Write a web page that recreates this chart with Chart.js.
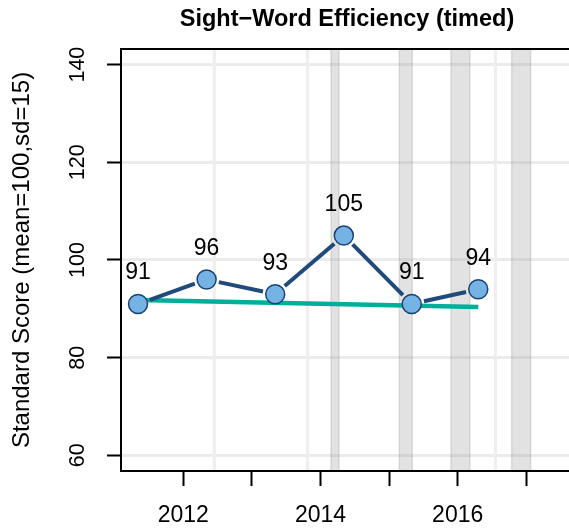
<!DOCTYPE html>
<html>
<head>
<meta charset="utf-8">
<script src="https://cdn.jsdelivr.net/npm/chart.js@4/dist/chart.umd.min.js"></script>
<style>
  html, body { margin: 0; padding: 0; overflow: hidden; background: #fff; }
  #wrap { width: 600px; height: 531px; }
</style>
</head>
<body>
<div id="wrap"><canvas id="c" width="600" height="531"></canvas></div>
<script>
// ---- data ----
const chartTitle = 'Sight\u2212Word Efficiency (timed)';
const yAxisTitle = 'Standard Score (mean=100,sd=15)';
const testDates = [2011.34, 2012.34, 2013.34, 2014.34, 2015.33, 2016.30];
const scores = [91, 96, 93, 105, 91, 94];
const trendDates = [2011.34, 2016.30];
const trendValues = [91.8, 90.4];
const bandStarts = [2014.153, 2015.149, 2015.902, 2016.787];
const bandEnds = [2014.270, 2015.338, 2016.179, 2017.064];
const refLineDates = [2012.452, 2013.813, 2016.551];
const xLabelYears = [2012, 2014, 2016];
const yRange = [56.8, 143.2];
const xRange = [2011.092, 2017.681];

const FONT = '"Liberation Sans", Arial, Helvetica, sans-serif';
Chart.defaults.font.family = FONT;
Chart.defaults.color = '#000';

const scorePoints = testDates.map((d, i) => ({x: d, y: scores[i]}));
const trendPoints = trendDates.map((d, i) => ({x: d, y: trendValues[i]}));

const decor = {
  id: 'decor',
  beforeDatasetsDraw(chart) {
    const {ctx, chartArea: a, scales: {x}} = chart;
    ctx.save();
    ctx.beginPath();
    ctx.rect(a.left, a.top, a.right - a.left, a.bottom - a.top);
    ctx.clip();
    // reference lines
    ctx.strokeStyle = '#EEEEEE';
    ctx.lineWidth = 3;
    refLineDates.forEach(d => {
      const px = x.getPixelForValue(d);
      ctx.beginPath();
      ctx.moveTo(px, a.top);
      ctx.lineTo(px, a.bottom);
      ctx.stroke();
    });
    // shaded bands
    bandStarts.forEach((s, i) => {
      const x0 = x.getPixelForValue(s);
      const x1 = x.getPixelForValue(bandEnds[i]);
      ctx.fillStyle = 'rgba(160,160,160,0.30)';
      ctx.fillRect(x0, a.top, x1 - x0, a.bottom - a.top);
      ctx.strokeStyle = 'rgba(140,140,140,0.25)';
      ctx.lineWidth = 1.5;
      ctx.strokeRect(x0, a.top, x1 - x0, a.bottom - a.top);
    });
    ctx.restore();
  },
  beforeDatasetDraw(chart, args) {
    if (args.index !== 0) return;
    const {ctx} = chart;
    const pts = args.meta.data;
    const gap = 12.5;
    ctx.save();
    ctx.strokeStyle = '#1F4A7A';
    ctx.lineWidth = 4;
    ctx.lineCap = 'butt';
    for (let i = 0; i < pts.length - 1; i++) {
      const p = pts[i], q = pts[i + 1];
      const dx = q.x - p.x, dy = q.y - p.y;
      const len = Math.hypot(dx, dy);
      if (len <= 2 * gap) continue;
      const ux = dx / len, uy = dy / len;
      ctx.beginPath();
      ctx.moveTo(p.x + ux * gap, p.y + uy * gap);
      ctx.lineTo(q.x - ux * gap, q.y - uy * gap);
      ctx.stroke();
    }
    ctx.restore();
  },
  afterDatasetsDraw(chart) {
    const {ctx, chartArea: a} = chart;
    const meta = chart.getDatasetMeta(0);
    ctx.save();
    ctx.fillStyle = '#000';
    ctx.font = '23px ' + FONT;
    ctx.textAlign = 'center';
    ctx.textBaseline = 'middle';
    meta.data.forEach((p, i) => {
      ctx.fillText(String(scores[i]), p.x, p.y - 31);
    });
    // plot box
    ctx.strokeStyle = '#000';
    ctx.lineWidth = 2;
    ctx.strokeRect(a.left, a.top, a.right - a.left, a.bottom - a.top);
    ctx.restore();
  }
};

new Chart(document.getElementById('c'), {
  type: 'scatter',
  data: {
    datasets: [
      {
        label: 'Score',
        data: scorePoints,
        showLine: false,
        pointRadius: 9.5,
        pointHoverRadius: 9.5,
        pointBackgroundColor: '#74B3E4',
        pointBorderColor: '#1A426F',
        pointBorderWidth: 1.5,
        order: 1
      },
      {
        label: 'Trend',
        data: trendPoints,
        showLine: true,
        borderColor: '#00AE9A',
        borderWidth: 4.5,
        pointRadius: 0,
        order: 3
      }
    ]
  },
  options: {
    responsive: false,
    animation: false,
    devicePixelRatio: 1,
    layout: { padding: { left: 0, right: 27, top: 0, bottom: 0 } },
    plugins: {
      legend: { display: false },
      tooltip: { enabled: false },
      title: {
        display: true,
        text: chartTitle,
        fullSize: false,
        color: '#000',
        font: { size: 23.5, weight: 'bold', family: FONT },
        padding: { top: 5.8, bottom: 15 }
      }
    },
    scales: {
      x: {
        type: 'linear',
        min: xRange[0],
        max: xRange[1],
        afterFit(s) { s.height = 60; },
        border: { display: false },
        grid: {
          display: true,
          drawOnChartArea: false,
          drawTicks: true,
          tickLength: 15,
          tickColor: '#000',
          tickWidth: 2
        },
        ticks: {
          stepSize: 1,
          includeBounds: false,
          autoSkip: false,
          maxRotation: 0,
          padding: 16.3,
          font: { size: 23 },
          color: '#000',
          callback: v => xLabelYears.includes(v) ? String(v) : ''
        }
      },
      y: {
        type: 'linear',
        min: yRange[0],
        max: yRange[1],
        afterFit(s) { s.width = 121; },
        border: { display: false },
        grid: {
          color: '#EBEBEB',
          lineWidth: 3,
          drawTicks: true,
          tickLength: 14,
          tickColor: '#000',
          tickWidth: 2
        },
        ticks: {
          stepSize: 20,
          includeBounds: false,
          minRotation: 90,
          maxRotation: 90,
          crossAlign: 'center',
          padding: 10.5,
          font: { size: 21.5 },
          color: '#000'
        },
        title: {
          display: true,
          text: yAxisTitle,
          color: '#000',
          font: { size: 24 },
          padding: { top: 7.6, bottom: 0 }
        }
      }
    }
  },
  plugins: [decor]
});
</script>
</body>
</html>
